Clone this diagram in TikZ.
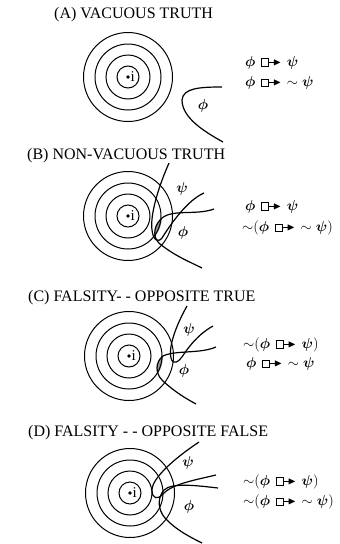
\documentclass[tikz,border=0pt]{standalone}
\usepackage{amsmath,amssymb}
\usepackage{fontspec}
\setmainfont{Liberation Serif}
\usetikzlibrary{positioning}

\newcommand{\cf}{\mathrel{\mkern2mu\vcenter{\hbox{\setlength{\fboxsep}{0pt}\setlength{\fboxrule}{0.7pt}\fbox{\rule{0pt}{6.5pt}\rule{6.5pt}{0pt}}}}\mkern-1mu\vcenter{\hbox{\rule{9pt}{0.9pt}}}\mkern-5mu\vcenter{\hbox{$\scriptstyle\blacktriangleright$}}\mkern2mu}}
\newcommand{\ph}{\boldsymbol{\phi}}
\newcommand{\ps}{\boldsymbol{\psi}}

\begin{document}
\begin{tikzpicture}[x=1pt, y=-1pt,
  title/.style={inner sep=0pt, anchor=base west, font=\fontsize{16}{19}\selectfont},
  sphere/.style={line width=1pt},
  region/.style={line width=1.2pt},
  formula/.style={inner sep=0pt, anchor=base west, text height=10pt, text depth=3pt,
    font=\fontsize{15}{17}\selectfont},
  lab/.style={inner sep=0pt, font=\fontsize{15}{17}\selectfont},
  shade/.style={fill=black!40},
]
  \useasboundingbox (0,0) rectangle (340,544);

  \node[title] (ta) at (54,18) {(A) VACUOUS TRUTH};
  \node[title] (tb) at (27,159) {(B) NON-VACUOUS TRUTH};
  \node[title] (tc) at (28,301) {(C) FALSITY- - OPPOSITE TRUE};
  \node[title] (td) at (28,436) {(D) FALSITY - - OPPOSITE FALSE};

  \coordinate (ca) at (128,77);
  \coordinate (cb) at (128,216);
  \coordinate (cc) at (129,356);
  \coordinate (cd) at (130,493);

  % shaded parts of the closest phi-sphere
  \begin{scope}
    \clip (cb) circle[radius=34];
    \fill[shade] (214,209) .. controls (195,216) and (170,208) .. (160,220)
      .. controls (153,228) and (153,238) .. (160,244)
      .. controls (175,256) and (190,262) .. (202,268) -- (260,268) -- (260,209) -- cycle;
  \end{scope}
  \begin{scope}
    \clip (cc) circle[radius=34];
    \fill[shade] (216,347) .. controls (200,354) and (175,350) .. (163,356)
      .. controls (155,362) and (155,374) .. (163,381)
      .. controls (175,392) and (185,398) .. (196,404) -- (260,404) -- (260,347) -- cycle;
  \end{scope}

  \foreach \c in {ca,cb,cc,cd} {
    \foreach \r in {11,22,33,44.5}
      \draw[sphere] (\c) circle[radius=\r];
    \fill (\c) circle[radius=1.8];
    \node[lab, anchor=west] (i-\c) at ([xshift=2.5pt]\c) {i};
  }

  % (A)
  \draw[region] (222,87) .. controls (200,87) and (183,88) .. (182,100)
    .. controls (182,118) and (205,132) .. (223,142);
  \node[lab] (phia) at (203,106) {$\ph$};
  \node[formula] (fa1) at (245,66) {$\ph\cf\ps$};
  \node[formula, below right=7pt and 0pt of fa1.south west] (fa2) {$\ph\cf\mathord{\sim}\;\ps$};

  % (B)
  \draw[region] (169,163) .. controls (158,188) and (150,215) .. (152,230)
    .. controls (153,240) and (158,243) .. (162,238)
    .. controls (172,222) and (188,200) .. (204,193);
  \draw[region] (214,209) .. controls (195,216) and (170,208) .. (160,220)
    .. controls (153,228) and (153,238) .. (160,244)
    .. controls (175,256) and (190,262) .. (202,268);
  \node[lab] (psib) at (182,189) {$\ps$};
  \node[lab] (phib) at (183,233) {$\ph$};
  \node[formula] (fb1) at (245,210) {$\ph\cf\ps$};
  \node[formula, below right=8pt and -3pt of fb1.south west] (fb2) {$\mathord{\sim}(\ph\cf\mathord{\sim}\;\ps)$};

  % (C)
  \draw[region] (187,306) .. controls (178,322) and (168,345) .. (171,358)
    .. controls (173,366) and (179,362) .. (184,354)
    .. controls (192,342) and (202,332) .. (213,326);
  \draw[region] (216,347) .. controls (200,354) and (175,350) .. (163,356)
    .. controls (155,362) and (155,374) .. (163,381)
    .. controls (175,392) and (185,398) .. (196,404);
  \node[lab] (psic) at (189,330) {$\ps$};
  \node[lab] (phic) at (184,371) {$\ph$};
  \node[formula] (fc1) at (243,348) {$\mathord{\sim}(\ph\cf\ps)$};
  \node[formula, below right=6pt and 3pt of fc1.south west] (fc2) {$\ph\cf\mathord{\sim}\;\ps$};

  % (D)
  \draw[region] (199,442) .. controls (175,458) and (152,478) .. (152,490)
    .. controls (152,499) and (158,500) .. (163,494)
    .. controls (172,484) and (195,480) .. (216,475);
  \draw[region] (218,488) .. controls (200,486) and (172,482) .. (164,490)
    .. controls (157,498) and (158,510) .. (165,518)
    .. controls (176,530) and (190,537) .. (202,543);
  \node[lab] (psid) at (188,463) {$\ps$};
  \node[lab] (phid) at (189,507) {$\ph$};
  \node[formula] (fd1) at (243,485) {$\mathord{\sim}(\ph\cf\ps)$};
  \node[formula, below right=7pt and 0pt of fd1.south west] (fd2) {$\mathord{\sim}(\ph\cf\mathord{\sim}\;\ps)$};
\end{tikzpicture}
\end{document}
